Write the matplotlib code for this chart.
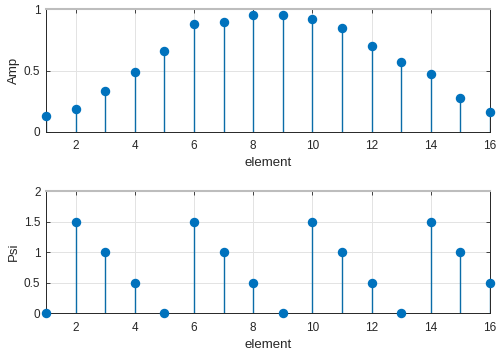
import matplotlib
matplotlib.use("Agg")
import matplotlib.pyplot as plt

plt.rcParams.update({
    "font.family": ["Liberation Sans", "DejaVu Sans"],
    "font.size": 9,
})

ELEMENTS = list(range(1, 17))
AMP = [0.127, 0.187, 0.333, 0.49, 0.66, 0.88, 0.895, 0.955,
       0.955, 0.92, 0.85, 0.70, 0.573, 0.468, 0.279, 0.162]
PSI = [0, 1.5, 1, 0.5, 0, 1.5, 1, 0.5,
       0, 1.5, 1, 0.5, 0, 1.5, 1, 0.5]

BLUE = "#0072BD"


def stem_panel(ax, vals, ylabel, ylim, yticks, yticklabels):
    markers, stems, base = ax.stem(ELEMENTS, vals, basefmt=" ")
    plt.setp(stems, color="#0a6ca8", linewidth=1.0)
    plt.setp(markers, color=BLUE, markersize=5.8, zorder=3, clip_on=False)
    ax.set_xlim(1, 16)
    ax.set_ylim(*ylim)
    ax.set_xticks([2, 4, 6, 8, 10, 12, 14, 16])
    ax.set_yticks(yticks)
    ax.set_yticklabels(yticklabels)
    ax.set_xlabel("element", fontsize=9.5, labelpad=4, color="#262626")
    ax.set_ylabel(ylabel, fontsize=9.5, labelpad=3, color="#262626")
    ax.grid(True, color="#e3e3e3", linewidth=0.7)
    ax.set_axisbelow(True)
    ax.tick_params(direction="in", length=3, width=0.6, colors="#262626",
                   top=True, right=True, labelsize=8.5)
    ax.tick_params(axis="x", pad=6)
    ax.tick_params(axis="y", pad=4)
    for s in ("left", "bottom", "right"):
        ax.spines[s].set_color("#262626")
        ax.spines[s].set_linewidth(0.7)
    ax.spines["top"].set_color("#bdbdbd")
    ax.spines["top"].set_linewidth(1.5)


fig = plt.figure(figsize=(5, 3.5), dpi=100)
ax1 = fig.add_axes([0.092, 0.624, 0.888, 0.349])
ax2 = fig.add_axes([0.092, 0.105, 0.888, 0.349])

stem_panel(ax1, AMP, "Amp", (0, 1), [0, 0.5, 1], ["0", "0.5", "1"])
stem_panel(ax2, PSI, "Psi", (0, 2), [0, 0.5, 1, 1.5, 2],
           ["0", "0.5", "1", "1.5", "2"])

fig.savefig("out.png", dpi=100)
